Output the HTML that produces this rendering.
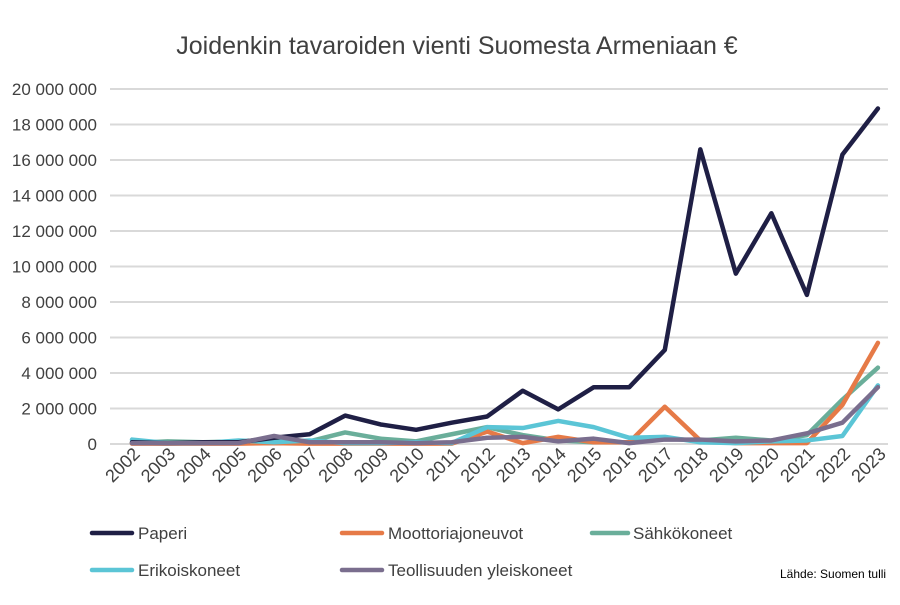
<!DOCTYPE html>
<html><head><meta charset="utf-8"><style>
html,body{margin:0;padding:0;background:#fff;}
body{width:900px;height:600px;overflow:hidden;font-family:"Liberation Sans",sans-serif;}
</style></head><body>
<svg id="c" width="900" height="600" xmlns="http://www.w3.org/2000/svg" font-family="Liberation Sans, sans-serif">
<text x="457" y="54" text-anchor="middle" font-size="25" fill="#404040">Joidenkin tavaroiden vienti Suomesta Armeniaan €</text>
<g id="grid"></g>
<g id="lines" fill="none" stroke-width="4.5" stroke-linejoin="round" stroke-linecap="round"></g>
<g font-size="17" fill="#404040">
<line x1="92" y1="533" x2="132" y2="533" stroke="#1f1f45" stroke-width="4.5" stroke-linecap="round"/><text x="138" y="539">Paperi</text>
<line x1="342" y1="533" x2="382" y2="533" stroke="#e67a47" stroke-width="4.5" stroke-linecap="round"/><text x="388" y="539">Moottoriajoneuvot</text>
<line x1="592" y1="533" x2="628" y2="533" stroke="#6aae9a" stroke-width="4.5" stroke-linecap="round"/><text x="633" y="539">Sähkökoneet</text>
<line x1="92" y1="570" x2="132" y2="570" stroke="#5bc5d6" stroke-width="4.5" stroke-linecap="round"/><text x="138" y="576">Erikoiskoneet</text>
<line x1="342" y1="570" x2="382" y2="570" stroke="#7a6e8e" stroke-width="4.5" stroke-linecap="round"/><text x="388" y="576">Teollisuuden yleiskoneet</text>
</g>
<text x="780" y="578" font-size="12" fill="#000">Lähde: Suomen tulli</text>
</svg>
<script>
var ns="http://www.w3.org/2000/svg",g=document.getElementById("grid"),L=document.getElementById("lines");
function y(v){return 444-v*17.75;}function x(i){return 132+i*35.52;}
function el(t,a,p,txt){var e=document.createElementNS(ns,t);for(var k in a)e.setAttribute(k,a[k]);if(txt)e.textContent=txt;p.appendChild(e);return e;}
for(var v=0;v<=20;v+=2){el("line",{x1:110,x2:888,y1:y(v),y2:y(v),stroke:"#d9d9d9","stroke-width":2},g);
el("text",{x:97,y:y(v)+6,"text-anchor":"end","font-size":17,fill:"#404040"},g,v==0?"0":v+" 000 000");}
for(var i=0;i<22;i++){var tx=x(i)+9,ty=455;el("text",{x:tx,y:ty,"text-anchor":"end","font-size":18,fill:"#404040",transform:"rotate(-45 "+tx+" "+ty+")"},g,String(2002+i));}
var S=[
["#6aae9a",[0.05,0.15,0.1,0.15,0.25,0.15,0.65,0.3,0.15,0.55,0.95,0.5,0.2,0.1,0.1,0.3,0.2,0.35,0.2,0.5,2.5,4.3]],
["#e67a47",[0.02,0.02,0.02,0.02,0.05,0.02,0.02,0.02,0.02,0.02,0.7,0.05,0.4,0.1,0.1,2.1,0.2,0.05,0.05,0.05,2.2,5.7]],
["#5bc5d6",[0.25,0.05,0.05,0.2,0.1,0.2,0.05,0.05,0.1,0.05,0.95,0.9,1.3,0.95,0.35,0.4,0.1,0.05,0.15,0.2,0.45,3.3]],
["#1f1f45",[0.1,0.05,0.1,0.1,0.35,0.55,1.6,1.1,0.8,1.2,1.55,3.0,1.95,3.2,3.2,5.3,16.6,9.6,13.0,8.4,16.3,18.9]],
["#7a6e8e",[0.05,0.05,0.05,0.05,0.45,0.1,0.1,0.1,0.05,0.1,0.35,0.4,0.15,0.3,0.05,0.25,0.25,0.15,0.2,0.6,1.2,3.2]]];
S.forEach(function(s){el("polyline",{stroke:s[0],points:s[1].map(function(v,i){return x(i)+","+y(v);}).join(" ")},L);});
</script>
</body></html>
